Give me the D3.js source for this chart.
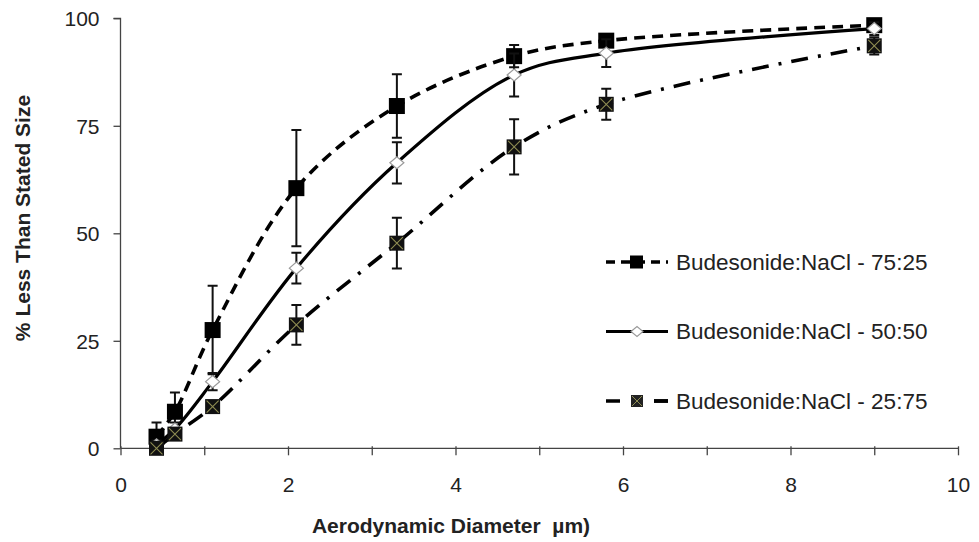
<!DOCTYPE html>
<html>
  <head>
    <meta charset="utf-8" />
    <script src="https://cdn.jsdelivr.net/npm/d3@7"></script>
    <style>
      body { margin: 0; background: #fff; }
      text { font-family: Arial, "Liberation Sans", sans-serif; fill: #222; }
      .tick-label { font-size: 21px; }
      .axis-title { font-size: 21px; font-weight: bold; }
      .legend-text { font-size: 22.5px; }
      .axis-line { stroke: #444; stroke-width: 1.3; fill: none; }
      .err { stroke: #111; stroke-width: 2; fill: none; }
    </style>
  </head>
  <body>
    <div id="chart"></div>
    <script type="text/javascript">
      var w = 979, h = 542;

      // data
      var diameters = [0.43, 0.65, 1.1, 2.1, 3.3, 4.7, 5.8, 9.0];
      var seriesNames = ["Budesonide:NaCl - 75:25", "Budesonide:NaCl - 50:50", "Budesonide:NaCl - 25:75"];
      var values7525 = [2.7, 8.5, 27.5, 60.5, 79.6, 91.2, 94.8, 98.4];
      var errors7525 = [3.3, 4.5, 10.3, 13.5, 7.4, 2.6, 1.5, 1.0];
      var values5050 = [0.8, 4.5, 15.5, 41.9, 66.4, 86.8, 91.9, 97.6];
      var errors5050 = [1.0, 1.5, 2.0, 3.6, 4.8, 5.0, 3.2, 1.5];
      var values2575 = [0.0, 3.3, 9.7, 28.7, 47.7, 70.1, 80.0, 93.6];
      var errors2575 = [0.5, 1.0, 1.0, 4.6, 5.9, 6.4, 3.6, 2.0];
      var xTicks = [0, 2, 4, 6, 8, 10];
      var yTicks = [0, 25, 50, 75, 100];

      var x = d3.scaleLinear().domain([0, 10]).range([120.5, 958]);
      var y = d3.scaleLinear().domain([0, 100]).range([448.3, 18.3]);

      var svg = d3.select("#chart").append("svg")
        .attr("width", w)
        .attr("height", h);

      var series = [
        { name: seriesNames[0], vals: values7525, errs: errors7525, dash: "11,7", width: 3.6, marker: "square" },
        { name: seriesNames[1], vals: values5050, errs: errors5050, dash: null, width: 3.2, marker: "diamond" },
        { name: seriesNames[2], vals: values2575, errs: errors2575, dash: "17,10,3,10", width: 3.6, marker: "cross" }
      ];

      // axes
      var yAxis = d3.axisLeft(y).tickValues(yTicks).tickSize(7).tickFormat(d3.format("d"));
      var gy = svg.append("g").attr("transform", "translate(" + x(0) + ",0)").call(yAxis);
      gy.select(".domain").attr("class", "axis-line").attr("d", "M0," + y(0) + "V" + y(100) + "h-7");
      gy.selectAll(".tick line").attr("stroke", "#444").attr("stroke-width", 1.3);
      gy.selectAll(".tick text").attr("class", "tick-label").attr("x", -21).attr("dy", "0.36em");

      var xAxis = d3.axisBottom(x).tickValues(d3.range(0, 11)).tickSize(7).tickFormat(function(d) {
        return xTicks.indexOf(d) >= 0 ? d : "";
      });
      var gx = svg.append("g").attr("transform", "translate(0," + y(0) + ")").call(xAxis);
      gx.select(".domain").attr("class", "axis-line").attr("d", "M" + x(0) + ",0H" + x(10));
      gx.selectAll(".tick line").attr("stroke", "#444").attr("stroke-width", 1.3).attr("y1", -2);
      gx.selectAll(".tick text").attr("class", "tick-label").attr("y", 29).attr("dy", "0.71em");

      svg.append("text").attr("class", "axis-title")
        .attr("transform", "translate(30,218) rotate(-90)")
        .attr("text-anchor", "middle")
        .text("% Less Than Stated Size");
      svg.append("text").attr("class", "axis-title")
        .attr("x", 451).attr("y", 533)
        .attr("text-anchor", "middle")
        .style("white-space", "pre")
        .text("Aerodynamic Diameter  \u00b5m)");

      var line = d3.line()
        .x(function(d) { return x(d[0]); })
        .y(function(d) { return y(d[1]); })
        .curve(d3.curveCatmullRom.alpha(0.5));

      function drawMarker(g, type, cx, cy) {
        if (type === "square") {
          g.append("rect").attr("x", cx - 8).attr("y", cy - 8).attr("width", 16).attr("height", 16)
            .attr("fill", "#000");
        } else if (type === "diamond") {
          g.append("path")
            .attr("d", "M" + (cx - 7) + "," + cy + "L" + cx + "," + (cy - 6) + "L" + (cx + 7) + "," + cy + "L" + cx + "," + (cy + 6) + "Z")
            .attr("fill", "#fff").attr("stroke", "#999").attr("stroke-width", 1.2);
        } else {
          g.append("rect").attr("x", cx - 7.5).attr("y", cy - 7.5).attr("width", 15).attr("height", 15)
            .attr("fill", "#111");
          g.append("path")
            .attr("d", "M" + (cx - 6) + "," + (cy - 6) + "L" + (cx + 6) + "," + (cy + 6) + "M" + (cx + 6) + "," + (cy - 6) + "L" + (cx - 6) + "," + (cy + 6))
            .attr("stroke", "#8e8c52").attr("stroke-width", 1.1);
        }
      }

      series.forEach(function(s) {
        var pts = diameters.map(function(d, i) { return [d, s.vals[i], s.errs[i]]; });
        var g = svg.append("g");

        g.append("path").datum(pts)
          .attr("d", line)
          .attr("fill", "none")
          .attr("stroke", "#000")
          .attr("stroke-width", s.width)
          .attr("stroke-dasharray", s.dash);

        g.selectAll("path.err").data(pts).enter().append("path")
          .attr("class", "err")
          .attr("d", function(d) {
            var cx = x(d[0]), y1 = y(d[1] + d[2]), y2 = y(d[1] - d[2]);
            return "M" + cx + "," + y1 + "V" + y2 + "M" + (cx - 5) + "," + y1 + "h10M" + (cx - 5) + "," + y2 + "h10";
          });

        pts.forEach(function(d) { drawMarker(g, s.marker, x(d[0]), y(d[1])); });
      });

      // legend
      var legend = svg.append("g");
      series.forEach(function(s, i) {
        var ly = 262 + i * 69.5;
        legend.append("line")
          .attr("x1", 606).attr("x2", 668).attr("y1", ly).attr("y2", ly)
          .attr("stroke", "#000").attr("stroke-width", s.width)
          .attr("stroke-dasharray", s.marker === "square" ? "9,6" : s.marker === "cross" ? "14,34" : null);
        if (s.marker === "cross") {
          legend.append("line").attr("x1", 654).attr("x2", 668).attr("y1", ly).attr("y2", ly)
            .attr("stroke", "#000").attr("stroke-width", s.width);
        }
        var mg = legend.append("g");
        if (s.marker === "square") {
          mg.append("rect").attr("x", 630).attr("y", ly - 6.5).attr("width", 13).attr("height", 13).attr("fill", "#000");
        } else if (s.marker === "diamond") {
          mg.append("path")
            .attr("d", "M631," + ly + "L637," + (ly - 5) + "L643," + ly + "L637," + (ly + 5) + "Z")
            .attr("fill", "#fff").attr("stroke", "#999").attr("stroke-width", 1.1);
        } else {
          mg.append("rect").attr("x", 631).attr("y", ly - 6).attr("width", 12).attr("height", 12).attr("fill", "#222");
          mg.append("path")
            .attr("d", "M632," + (ly - 5) + "L642," + (ly + 5) + "M642," + (ly - 5) + "L632," + (ly + 5))
            .attr("stroke", "#8e8c52").attr("stroke-width", 1);
        }
        legend.append("text").attr("class", "legend-text")
          .attr("x", 676).attr("y", ly).attr("dy", "0.35em")
          .text(s.name);
      });
    </script>
  </body>
</html>
